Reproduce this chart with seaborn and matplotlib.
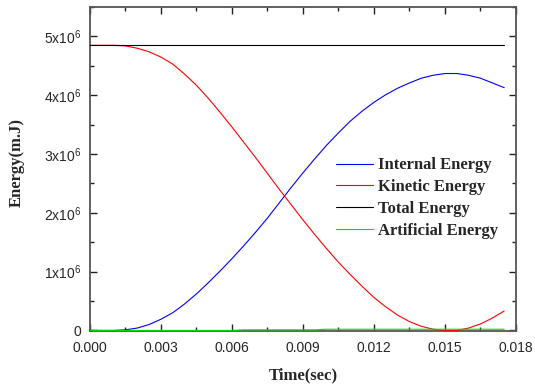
import numpy as np
import pandas as pd
import matplotlib
matplotlib.use("Agg")
import matplotlib.pyplot as plt
import seaborn as sns
from matplotlib.ticker import MultipleLocator, FuncFormatter

# time grid (sec) and energies (units of 1e6 mJ)
time = [0.0000, 0.0005, 0.0010, 0.0015, 0.0020, 0.0025, 0.0030, 0.0035, 0.0040,
        0.0045, 0.0050, 0.0055, 0.0060, 0.0065, 0.0070, 0.0075, 0.0080, 0.0085,
        0.0090, 0.0095, 0.0100, 0.0105, 0.0110, 0.0115, 0.0120, 0.0125, 0.0130,
        0.0135, 0.0140, 0.0145, 0.0150, 0.0155, 0.0160, 0.0165, 0.0170, 0.0175]

internal = [0.00, 0.00, 0.00, 0.01, 0.04, 0.10, 0.19, 0.30, 0.45,
            0.62, 0.81, 1.01, 1.22, 1.44, 1.67, 1.91, 2.17, 2.43,
            2.68, 2.92, 3.15, 3.36, 3.56, 3.73, 3.88, 4.01, 4.12,
            4.21, 4.29, 4.34, 4.37, 4.37, 4.34, 4.29, 4.21, 4.13]

kinetic = [4.85, 4.85, 4.85, 4.84, 4.80, 4.74, 4.65, 4.53, 4.36,
           4.17, 3.95, 3.71, 3.46, 3.20, 2.94, 2.67, 2.40, 2.14,
           1.88, 1.63, 1.39, 1.16, 0.95, 0.75, 0.56, 0.40, 0.26,
           0.15, 0.07, 0.02, 0.00, 0.00, 0.04, 0.11, 0.21, 0.33]

total = [4.85] * len(time)

artificial = [0.00, 0.00, 0.00, 0.00, 0.00, 0.00, 0.00, 0.00, 0.00,
              0.00, 0.00, 0.00, 0.00, 0.01, 0.01, 0.01, 0.01, 0.01,
              0.01, 0.01, 0.02, 0.02, 0.02, 0.02, 0.02, 0.02, 0.02,
              0.02, 0.02, 0.02, 0.02, 0.02, 0.02, 0.02, 0.02, 0.02]

series = [("Internal Energy", internal, "#0000ff"),
          ("Kinetic Energy", kinetic, "#ff0000"),
          ("Total Energy", total, "#000000"),
          ("Artificial Energy", artificial, "#00dd00")]

sns.set_style("ticks")
plt.rcParams["font.family"] = ["Liberation Sans", "DejaVu Sans"]
plt.rcParams["mathtext.default"] = "regular"

fig = plt.figure(figsize=(5.35, 3.87), dpi=100)
ax = fig.add_axes([0.168, 0.1447, 0.7965, 0.837])

for name, vals, col in series:
    sns.lineplot(x=time, y=np.array(vals) * 1e6, ax=ax, color=col,
                 linewidth=0.8, label=name, zorder=3, clip_on=False)

ax.set_xlim(0, 0.018)
ax.set_ylim(-0.01e6, 5.5e6)
ax.xaxis.set_major_locator(MultipleLocator(0.003))
ax.xaxis.set_minor_locator(MultipleLocator(0.0015))
ax.yaxis.set_major_locator(MultipleLocator(1e6))
ax.yaxis.set_minor_locator(MultipleLocator(0.5e6))
ax.xaxis.set_major_formatter(FuncFormatter(lambda v, p: f"{v:.3f}"))
ax.yaxis.set_major_formatter(
    FuncFormatter(lambda v, p: "0" if abs(v) < 1 else f"{int(round(v / 1e6))}x10$^{{6}}$"))

ax.tick_params(which="both", direction="in", top=True, right=True,
               labelsize=10, color="#222222")
ax.tick_params(axis="x", which="major", pad=7)
ax.tick_params(axis="y", which="major", pad=6)
ax.tick_params(which="major", length=5, width=1)
ax.tick_params(which="minor", length=3, width=1)
for s in ax.spines.values():
    s.set_linewidth(1.3)
    s.set_color("#555555")

serif = ["Liberation Serif", "DejaVu Serif"]
ax.set_xlabel("Time(sec)", family=serif, fontweight="bold", fontsize=12, labelpad=9)
ax.set_ylabel("Energy(m.J)", family=serif, fontweight="bold", fontsize=12)
ax.yaxis.set_label_coords(-0.153, 0.52)

ax.legend(loc="upper left", bbox_to_anchor=(0.543, 0.582), frameon=False,
          prop={"family": serif, "weight": "bold", "size": 12},
          handlelength=2.2, labelspacing=0.35, handletextpad=0.28)

fig.savefig("out.png", dpi=100)
